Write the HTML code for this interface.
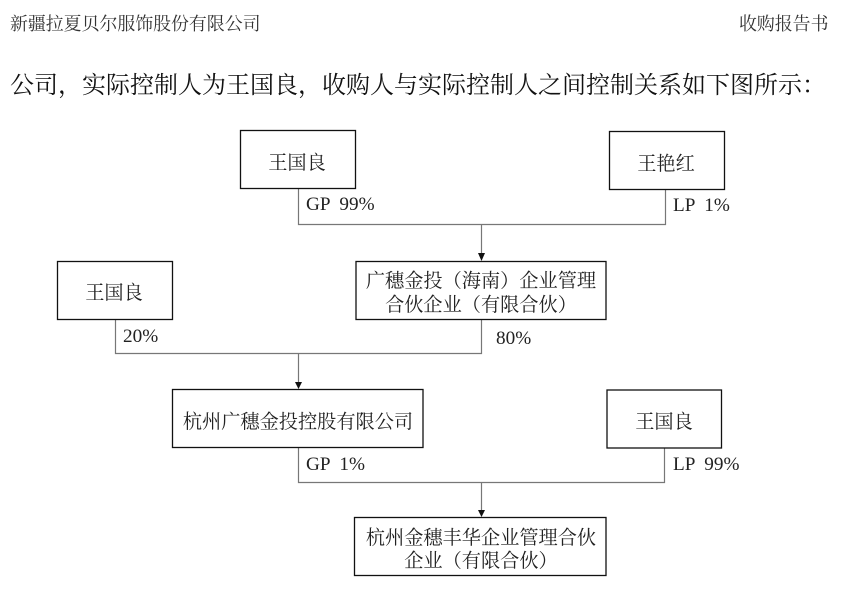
<!DOCTYPE html>
<html lang="zh"><head><meta charset="utf-8"><style>
html,body{margin:0;padding:0;background:#fff}
svg{display:block}
text{font-family:"Liberation Serif","Noto Serif CJK SC",serif;fill:#222}
.b{fill:#fff;stroke:#111;stroke-width:1.3}
.l{stroke:#777;stroke-width:1.2;fill:none}
.t{font-size:19.2px;text-anchor:middle}
.p{font-size:19.2px}
</style></head><body>
<svg width="843" height="593" viewBox="0 0 843 593" xmlns="http://www.w3.org/2000/svg">
<rect width="843" height="593" fill="#fff"/>
<text x="10" y="30" font-size="17.9" style="fill:#333">新疆拉夏贝尔服饰股份有限公司</text>
<text x="739" y="30" font-size="17.9" style="fill:#333">收购报告书</text>
<text x="10" y="93" font-size="24" style="fill:#111">公司，实际控制人为王国良，收购人与实际控制人之间控制关系如下图所示：</text>
<path class="l" d="M298.500 188V224.500H665.500V189M481.500 224.500V254M115.500 319V353.500H481.500V319M298.500 353.500V383M298.500 447V482.500H664.500V448M481.500 482.500V511"/>
<path d="M478 253H485L481.500 261ZM295 382H302L298.500 389ZM478 510H485L481.500 517Z" fill="#111"/>
<rect class="b" x="240.500" y="130.500" width="115" height="58"/>
<rect class="b" x="609.500" y="131.500" width="115" height="58"/>
<rect class="b" x="356" y="261.500" width="250" height="58"/>
<rect class="b" x="57.500" y="261.500" width="115" height="58"/>
<rect class="b" x="172.500" y="389.500" width="250.500" height="58"/>
<rect class="b" x="607" y="390" width="114.500" height="58"/>
<rect class="b" x="354.500" y="517.500" width="251.500" height="58"/>
<text class="t" x="297" y="169">王国良</text>
<text class="t" x="666" y="170">王艳红</text>
<text class="t" x="481" y="287">广穗金投（海南）企业管理</text>
<text class="t" x="481" y="311">合伙企业（有限合伙）</text>
<text class="t" x="114" y="299">王国良</text>
<text class="t" x="298" y="428">杭州广穗金投控股有限公司</text>
<text class="t" x="664" y="428">王国良</text>
<text class="t" x="481" y="544">杭州金穗丰华企业管理合伙</text>
<text class="t" x="481" y="567">企业（有限合伙）</text>
<text class="p" x="306" y="210" xml:space="preserve">GP  99%</text>
<text class="p" x="673" y="211" xml:space="preserve">LP  1%</text>
<text class="p" x="123" y="342">20%</text>
<text class="p" x="496" y="344">80%</text>
<text class="p" x="306" y="470" xml:space="preserve">GP  1%</text>
<text class="p" x="673" y="470" xml:space="preserve">LP  99%</text>
</svg>
</body></html>
